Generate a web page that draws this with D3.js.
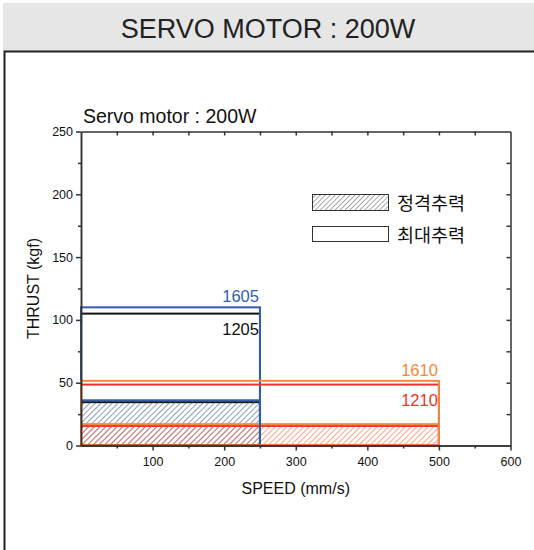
<!DOCTYPE html>
<html><head><meta charset="utf-8">
<script src="https://cdn.jsdelivr.net/npm/d3@7"></script>
<style>body{margin:0;background:#fff;}svg{display:block;font-family:"Liberation Sans",Arial,sans-serif;}</style>
</head><body>
<svg id="c" width="534" height="550"></svg>
<script>
const pageTitle = "SERVO MOTOR : 200W";
const chartTitle = "Servo motor : 200W";
const models = ["1605", "1205", "1610", "1210"];
const colors = ["#2f5fae", "#111111", "#f7873a", "#ec3429"];
const maxSpeed = [250, 250, 500, 500];
const maxThrust = [110, 105, 51.5, 48.5];
const ratedThrust = [36, 34.5, 17, 15.5];
const xTicks = [100, 200, 300, 400, 500, 600];
const yTicks = [0, 50, 100, 150, 200, 250];
const legendLabels = ["정격추력", "최대추력"];

const svg = d3.select("#c");
// header
svg.append("rect").attr("x", 3).attr("y", 3).attr("width", 531).attr("height", 48).attr("fill", "#e6e6e6");
svg.append("text").attr("x", 268).attr("y", 38).attr("text-anchor", "middle").attr("font-size", 27).attr("fill", "#222").text(pageTitle);
svg.append("path").attr("d", "M4.5,550 V51.5 H534").attr("fill", "none").attr("stroke", "#222").attr("stroke-width", 2);

const x = d3.scaleLinear().domain([0, 600]).range([81, 510.5]);
const y = d3.scaleLinear().domain([0, 250]).range([445.5, 131.5]);

const defs = svg.append("defs");
models.forEach((m, i) => {
  const p = defs.append("pattern").attr("id", "h" + i).attr("patternUnits", "userSpaceOnUse")
    .attr("width", 4).attr("height", 4).attr("patternTransform", "rotate(45)");
  p.append("line").attr("x1", 0).attr("y1", 0).attr("x2", 0).attr("y2", 4)
    .attr("stroke", colors[i]).attr("stroke-width", 1).attr("stroke-opacity", i === 1 ? 0.5 : 0.65);
});
const lp = defs.append("pattern").attr("id", "hl").attr("patternUnits", "userSpaceOnUse")
  .attr("width", 3.5).attr("height", 3.5).attr("patternTransform", "rotate(45)");
lp.append("line").attr("x1", 0).attr("y1", 0).attr("x2", 0).attr("y2", 3.5).attr("stroke", "#555").attr("stroke-width", 1);

const order = [1, 0, 3, 2];
const g = svg.append("g");
// rated hatched rects
order.forEach(i => {
  g.append("rect").attr("x", x(0)).attr("y", y(ratedThrust[i]))
    .attr("width", x(maxSpeed[i]) - x(0)).attr("height", y(0) - y(ratedThrust[i]))
    .attr("fill", "url(#h" + i + ")").attr("stroke", colors[i]).attr("stroke-width", 2);
});
// max rects
order.forEach(i => {
  g.append("rect").attr("x", x(0)).attr("y", y(maxThrust[i]))
    .attr("width", x(maxSpeed[i]) - x(0)).attr("height", y(0) - y(maxThrust[i]))
    .attr("fill", "none").attr("stroke", colors[i]).attr("stroke-width", 2);
});
// labels
const lblDy = [-5, 21, -5, 21];
models.forEach((m, i) => {
  g.append("text").attr("x", x(maxSpeed[i]) - 1).attr("y", y(maxThrust[i]) + lblDy[i])
    .attr("text-anchor", "end").attr("font-size", 16.5).attr("fill", colors[i]).text(m);
});

// axes
const bottom = d3.axisBottom(x).tickValues(xTicks).tickSize(5).tickSizeOuter(0);
const bAx = svg.append("g").attr("transform", `translate(0,${y(0)})`).call(bottom);
bAx.selectAll("text").attr("font-size", 12.5).attr("fill", "#111").attr("dy", "1em");
svg.append("g").attr("transform", `translate(0,${y(0)})`)
  .call(d3.axisBottom(x).tickValues(d3.range(50, 600, 100)).tickSize(3).tickFormat("").tickSizeOuter(0));
const left = d3.axisLeft(y).tickValues(yTicks).tickSize(5).tickSizeOuter(0);
const lAx = svg.append("g").attr("transform", `translate(${x(0)},0)`).call(left);
lAx.selectAll("text").attr("font-size", 12.5).attr("fill", "#111");
svg.append("g").attr("transform", `translate(${x(0)},0)`)
  .call(d3.axisLeft(y).tickValues(d3.range(25, 250, 50)).tickSize(3).tickFormat("").tickSizeOuter(0));
svg.append("g").attr("transform", `translate(0,${y(250)})`)
  .call(d3.axisBottom(x).tickValues(d3.range(50, 600, 50)).tickSize(4).tickFormat("").tickSizeOuter(0));
svg.append("g").attr("transform", `translate(${x(600)},0)`)
  .call(d3.axisLeft(y).tickValues(d3.range(25, 250, 25)).tickSize(4).tickFormat("").tickSizeOuter(0));
svg.selectAll(".domain, .tick line").attr("stroke", "#333").attr("stroke-width", 1.5);

svg.append("text").attr("x", 83).attr("y", 123).attr("font-size", 19.5).attr("fill", "#111").text(chartTitle);
svg.append("text").attr("x", x(300)).attr("y", 494).attr("text-anchor", "middle").attr("font-size", 16).attr("fill", "#111").text("SPEED (mm/s)");
svg.append("text").attr("transform", `translate(39,${y(125)}) rotate(-90)`).attr("text-anchor", "middle").attr("font-size", 16).attr("fill", "#111").text("THRUST (kgf)");

// legend
svg.append("rect").attr("x", 312.5).attr("y", 194.5).attr("width", 76).attr("height", 16).attr("fill", "url(#hl)").attr("stroke", "#333").attr("stroke-width", 1);
svg.append("rect").attr("x", 312.5).attr("y", 226.5).attr("width", 76).attr("height", 15).attr("fill", "#fff").attr("stroke", "#333").attr("stroke-width", 1);
svg.append("text").attr("x", 397).attr("y", 210).attr("font-family", "Noto Sans CJK KR").attr("font-size", 18.5).attr("fill", "#111").text(legendLabels[0]);
svg.append("text").attr("x", 397).attr("y", 242).attr("font-family", "Noto Sans CJK KR").attr("font-size", 18.5).attr("fill", "#111").text(legendLabels[1]);
</script>
</body></html>
